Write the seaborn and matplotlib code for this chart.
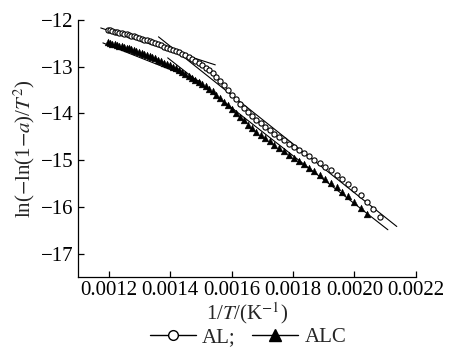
import matplotlib
matplotlib.use("Agg")
import matplotlib.pyplot as plt
from matplotlib.lines import Line2D
import pandas as pd
import seaborn as sns

# --- data ---

# 1/T (K^-1), one point every 5 K from 835 K down to 480 K
inv_T = [
    0.0011976, 0.0012048, 0.0012121, 0.0012195, 0.0012270, 0.0012346, 0.0012422, 0.0012500,
    0.0012579, 0.0012658, 0.0012739, 0.0012821, 0.0012903, 0.0012987, 0.0013072, 0.0013158,
    0.0013245, 0.0013333, 0.0013423, 0.0013514, 0.0013605, 0.0013699, 0.0013793, 0.0013889,
    0.0013986, 0.0014085, 0.0014184, 0.0014286, 0.0014388, 0.0014493, 0.0014599, 0.0014706,
    0.0014815, 0.0014925, 0.0015038, 0.0015152, 0.0015267, 0.0015385, 0.0015504, 0.0015625,
    0.0015748, 0.0015873, 0.0016000, 0.0016129, 0.0016260, 0.0016393, 0.0016529, 0.0016667,
    0.0016807, 0.0016949, 0.0017094, 0.0017241, 0.0017391, 0.0017544, 0.0017699, 0.0017857,
    0.0018018, 0.0018182, 0.0018349, 0.0018519, 0.0018692, 0.0018868, 0.0019048, 0.0019231,
    0.0019417, 0.0019608, 0.0019802, 0.0020000, 0.0020202, 0.0020408, 0.0020619, 0.0020833,
]

al_y = [
    -12.21, -12.22, -12.23, -12.25, -12.26, -12.27, -12.28, -12.30,
    -12.31, -12.32, -12.34, -12.35, -12.37, -12.39, -12.40, -12.42,
    -12.43, -12.45, -12.47, -12.49, -12.52, -12.54, -12.57, -12.59,
    -12.62, -12.64, -12.67, -12.69, -12.72, -12.75, -12.79, -12.83,
    -12.88, -12.92, -12.97, -13.03, -13.08, -13.13, -13.22, -13.31,
    -13.40, -13.50, -13.60, -13.70, -13.80, -13.88, -13.97, -14.05,
    -14.14, -14.21, -14.28, -14.35, -14.43, -14.50, -14.57, -14.65,
    -14.71, -14.78, -14.85, -14.91, -14.99, -15.06, -15.14, -15.22,
    -15.31, -15.41, -15.50, -15.62, -15.75, -15.89, -16.05, -16.21,
]

alc_y = [
    -12.48, -12.50, -12.51, -12.52, -12.54, -12.55, -12.56, -12.58,
    -12.59, -12.60, -12.62, -12.64, -12.66, -12.68, -12.70, -12.72,
    -12.75, -12.77, -12.79, -12.82, -12.85, -12.88, -12.91, -12.94,
    -12.97, -13.00, -13.03, -13.07, -13.11, -13.15, -13.19, -13.24,
    -13.28, -13.33, -13.37, -13.42, -13.47, -13.52, -13.60, -13.67,
    -13.75, -13.83, -13.91, -13.99, -14.07, -14.15, -14.24, -14.32,
    -14.39, -14.46, -14.53, -14.60, -14.67, -14.74, -14.81, -14.89,
    -14.96, -15.02, -15.09, -15.16, -15.24, -15.32, -15.41, -15.49,
    -15.58, -15.68, -15.77, -15.89, -16.03, -16.16,
]

# fitted straight lines (two end points each)
fit_al_1_x = [0.001174, 0.001547]
fit_al_1_y = [-12.17, -12.96]
fit_al_2_x = [0.001362, 0.002138]
fit_al_2_y = [-12.36, -16.42]
fit_alc_1_x = [0.001181, 0.001500]
fit_alc_1_y = [-12.49, -13.32]
fit_alc_2_x = [0.001392, 0.002109]
fit_alc_2_y = [-12.81, -16.49]

x_ticks = [0.0012, 0.0014, 0.0016, 0.0018, 0.0020, 0.0022]
x_tick_labels = ["0.0012", "0.0014", "0.0016", "0.0018", "0.0020", "0.0022"]
y_ticks = [-17, -16, -15, -14, -13, -12]
y_tick_labels = ["\u221217", "\u221216", "\u221215", "\u221214", "\u221213", "\u221212"]

df_al = pd.DataFrame({"x": inv_T, "y": al_y})
df_alc = pd.DataFrame({"x": inv_T[:len(alc_y)], "y": alc_y})

# --- style ---
sns.set_theme(style="ticks")
plt.rcParams["font.family"] = ["Liberation Serif", "DejaVu Serif"]
plt.rcParams["mathtext.fontset"] = "stix"
FS = 15

fig = plt.figure(figsize=(4.51, 3.51), dpi=100)
ax = fig.add_axes([0.173, 0.211, 0.749, 0.732])

# fit lines
for fx, fy in [(fit_al_1_x, fit_al_1_y), (fit_al_2_x, fit_al_2_y),
               (fit_alc_1_x, fit_alc_1_y), (fit_alc_2_x, fit_alc_2_y)]:
    sns.lineplot(x=fx, y=fy, ax=ax, color="black", linewidth=0.8, sort=False)

# data points
sns.scatterplot(data=df_alc, x="x", y="y", ax=ax, marker="^", s=24,
                color="black", edgecolor="black", linewidth=0.3, zorder=3)
sns.scatterplot(data=df_al, x="x", y="y", ax=ax, marker="o", s=14,
                facecolor="white", edgecolor="black", linewidth=0.8, zorder=4)

ax.set_xlim(0.0011, 0.0022)
ax.set_ylim(-17.5, -12)
ax.set_xticks(x_ticks)
ax.set_xticklabels(x_tick_labels)
ax.set_yticks(y_ticks)
ax.set_yticklabels(y_tick_labels)
ax.tick_params(direction="in", length=4, width=0.9, labelsize=FS, pad=3, colors="black")
for side in ["top", "right"]:
    ax.spines[side].set_visible(False)
for side in ["left", "bottom"]:
    ax.spines[side].set_color("black")
    ax.spines[side].set_linewidth(0.9)

ax.set_xlabel(r"1/$T$/(K$^{-1}$)", fontsize=FS, labelpad=0)
ax.set_ylabel(r"ln($-$ln(1$-$$a$)/$T^2$)", fontsize=FS, labelpad=3)

handles = [
    Line2D([], [], color="black", linewidth=1, marker="o", markersize=7,
           markerfacecolor="white", markeredgecolor="black"),
    Line2D([], [], color="black", linewidth=1, marker="^", markersize=9,
           markerfacecolor="black", markeredgecolor="black"),
]
fig.legend(handles, ["AL;", "ALC"], loc="center", bbox_to_anchor=(0.55, 0.038),
           ncol=2, frameon=False, fontsize=FS, handlelength=2.2, handletextpad=0.3,
           columnspacing=0.8, borderpad=0.1)

plt.savefig("out.png", dpi=100)
